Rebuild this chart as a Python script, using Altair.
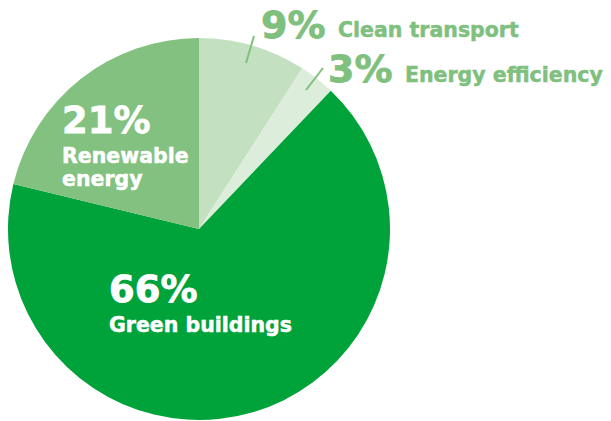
import altair as alt
import pandas as pd

categories = ["Clean transport", "Energy efficiency", "Green buildings", "Renewable energy"]
shares = [9, 3, 66, 21]
colors = ["#C3E1C0", "#DCEEDB", "#00A23A", "#82C17F"]

df = pd.DataFrame({"category": categories, "share": shares, "order": list(range(len(categories)))})

CX, CY, R = 191, 221, 191
TXT = "#80C07E"
FONT = "DejaVu Sans"
SMALL = 20.5

pie = alt.Chart(df).mark_arc(radius=R).encode(
    theta=alt.Theta("share:Q", stack=True),
    order=alt.Order("order:Q"),
    color=alt.Color("category:N", scale=alt.Scale(domain=categories, range=colors), legend=None),
    x=alt.value(CX),
    y=alt.value(CY),
)


def label(text, x, y, size, color, sw=0.5):
    return alt.Chart(pd.DataFrame({"t": [text]})).mark_text(
        align="left", baseline="alphabetic", font=FONT, fontWeight="bold",
        fontSize=size, color=color, stroke=color, strokeWidth=sw,
    ).encode(text="t:N", x=alt.value(x), y=alt.value(y))


def rule(x1, y1, x2, y2):
    return alt.Chart(pd.DataFrame({"a": [0]})).mark_rule(color=TXT, strokeWidth=2).encode(
        x=alt.value(x1), y=alt.value(y1), x2=alt.value(x2), y2=alt.value(y2)
    )


pct = [f"{v}%" for v in shares]

layers = [
    pie,
    rule(238, 55, 246, 28),
    rule(298, 82, 315, 60),
    label(pct[0], 253, 29.5, 38, TXT, 0.8),
    label("Clean transport", 330, 29, SMALL, TXT),
    label(pct[1], 320, 73.5, 38, TXT, 0.8),
    label("Energy efficiency", 397, 74, SMALL, TXT),
    label(pct[3], 54, 125, 37, "white", 0.8),
    label("Renewable", 54, 155, SMALL, "white"),
    label("energy", 54, 178, SMALL, "white"),
    label(pct[2], 101, 294, 37, "white", 0.8),
    label("Green buildings", 101, 324, SMALL, "white"),
]

chart = alt.layer(*layers).properties(
    width=595, height=413, autosize=alt.AutoSizeParams(type="none"), padding=0
).configure_view(stroke=None)

chart.save("out.html", embed_options={"renderer": "svg", "actions": False})
